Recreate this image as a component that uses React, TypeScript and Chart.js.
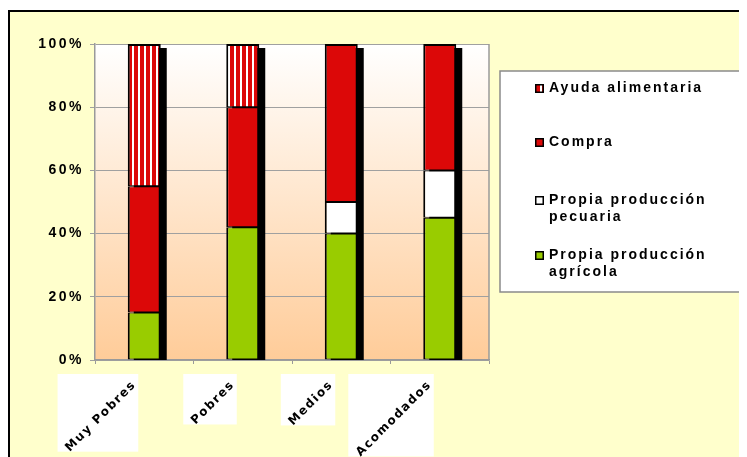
import { useEffect, useRef } from 'react';
import { Chart, registerables } from 'chart.js';
Chart.register(...registerables);

const categories = ['Muy Pobres', 'Pobres', 'Medios', 'Acomodados'];
const agricola = [15, 42, 40, 45];
const pecuaria: (number | null)[] = [null, null, 10, 15];
const compra = [40, 38, 50, 40];
const ayuda: (number | null)[] = [45, 20, null, null];
const yTickStep = 20;
const legendLines = [
  ['Ayuda alimentaria'],
  ['Compra'],
  ['Propia producción', 'pecuaria'],
  ['Propia producción', 'agrícola'],
];

const RED = '#dc0808';
const GREEN = '#99cc00';

function makeStripe(ctx: CanvasRenderingContext2D) {
  const c = document.createElement('canvas');
  c.width = 6;
  c.height = 6;
  const g = c.getContext('2d')!;
  g.fillStyle = '#ffffff';
  g.fillRect(0, 0, 6, 6);
  g.fillStyle = RED;
  g.fillRect(0, 0, 4, 6);
  return ctx.createPattern(c, 'repeat')!;
}

export default function App() {
  const ref = useRef<HTMLCanvasElement>(null);
  useEffect(() => {
    const canvas = ref.current!;
    const ctx0 = canvas.getContext('2d')!;
    const stripe = makeStripe(ctx0);
    const seriesData = [agricola, pecuaria, compra, ayuda];
    const isTop = (d: number, i: number) => {
      for (let k = d + 1; k < seriesData.length; k++) if (seriesData[k][i] != null) return false;
      return true;
    };
    const bw = (c: any) => ({ left: 2, right: 2, bottom: 1, top: isTop(c.datasetIndex, c.dataIndex) ? 2 : 1 });

    const bgPlugin = {
      id: 'bg',
      beforeDraw(chart: any) {
        const { ctx, width, height, chartArea: a } = chart;
        ctx.save();
        ctx.fillStyle = '#ffffff';
        ctx.fillRect(0, 0, width, height);
        ctx.fillStyle = '#ffffcc';
        ctx.fillRect(0, 2, width, height);
        ctx.fillStyle = '#000000';
        ctx.fillRect(0, 2, 2, height);
        ctx.fillRect(0, 2, width, 2);
        const g = ctx.createLinearGradient(0, a.top, 0, a.bottom);
        g.addColorStop(0, '#ffffff');
        g.addColorStop(1, '#ffcc99');
        ctx.fillStyle = g;
        ctx.fillRect(a.left, a.top, a.right - a.left, a.bottom - a.top);
        ctx.restore();
        ctx.letterSpacing = '2.5px';
      },
    };

    const shadowPlugin = {
      id: 'shadow',
      beforeDatasetsDraw(chart: any) {
        const { ctx, chartArea: a } = chart;
        ctx.save();
        ctx.fillStyle = '#000000';
        categories.forEach((_, i) => {
          let top = Infinity;
          let x = 0;
          let w = 0;
          chart.data.datasets.forEach((ds: any, d: number) => {
            if (ds.data[i] == null) return;
            const el = chart.getDatasetMeta(d).data[i];
            const p = el.getProps(['x', 'y', 'width'], true);
            top = Math.min(top, p.y);
            x = p.x;
            w = p.width;
          });
          ctx.fillRect(x - w / 2 + 6, top + 4, w, a.bottom - top - 4);
        });
        ctx.restore();
      },
    };

    const overlayPlugin = {
      id: 'overlay',
      afterDraw(chart: any) {
        const { ctx, chartArea: a } = chart;
        const xs = chart.scales.x;
        ctx.save();
        ctx.strokeStyle = '#9a9a9a';
        ctx.lineWidth = 1.5;
        ctx.beginPath();
        ctx.moveTo(a.right, a.top);
        ctx.lineTo(a.right, a.bottom);
        ctx.stroke();

        // category labels
        ctx.font = 'bold 12px "DejaVu Sans"';
        (ctx as any).letterSpacing = '1.5px';
        categories.forEach((c, i) => {
          const cx = xs.getPixelForValue(i);
          const W = ctx.measureText(c).width;
          const s = W * Math.SQRT1_2 + 14;
          const right = cx - 6;
          const top = a.bottom + 14;
          ctx.fillStyle = '#ffffff';
          ctx.fillRect(right - s, top, s, s - 3);
          ctx.save();
          ctx.translate(right - 4, top + 9);
          ctx.rotate(-Math.PI / 4);
          ctx.textAlign = 'right';
          ctx.textBaseline = 'middle';
          ctx.fillStyle = '#000000';
          ctx.fillText(c, 0, 0);
          ctx.restore();
        });

        // legend
        const lx = 492, ly = 63, lw = 241, lh = 221;
        ctx.fillStyle = '#ffffff';
        ctx.fillRect(lx, ly, lw, lh);
        ctx.strokeStyle = '#8a8a8a';
        ctx.lineWidth = 1.5;
        ctx.strokeRect(lx, ly, lw, lh);
        const fills = [stripe, RED, '#ffffff', GREEN];
        const ys = [80, 134, 192, 247];
        ctx.font = 'bold 14px "Liberation Sans", Arial';
        (ctx as any).letterSpacing = '2px';
        ctx.textAlign = 'left';
        ctx.textBaseline = 'middle';
        legendLines.forEach((lines, k) => {
          const y = ys[k];
          ctx.fillStyle = '#000000';
          ctx.fillRect(527, y - 4, 9, 9);
          ctx.fillStyle = fills[k] as any;
          ctx.fillRect(528.5, y - 2.5, 6, 6);
          ctx.fillStyle = '#000000';
          lines.forEach((t, j) => ctx.fillText(t, 541, y + j * 17));
        });
        ctx.restore();
      },
    };

    const chart = new Chart(canvas, {
      type: 'bar',
      data: {
        labels: categories,
        datasets: [
          { label: 'Propia producción agrícola', data: agricola, backgroundColor: GREEN },
          { label: 'Propia producción pecuaria', data: pecuaria, backgroundColor: '#ffffff' },
          { label: 'Compra', data: compra, backgroundColor: RED },
          { label: 'Ayuda alimentaria', data: ayuda, backgroundColor: stripe as any },
        ].map((d) => ({
          ...d,
          borderColor: '#000000',
          borderWidth: bw as any,
          borderSkipped: false as any,
          barPercentage: 0.335,
          categoryPercentage: 1,
        })),
      },
      options: {
        animation: false,
        responsive: false,
        devicePixelRatio: 1,
        layout: { padding: { top: 36, right: 258, bottom: 0, left: 0 } },
        plugins: { legend: { display: false }, tooltip: { enabled: false } },
        scales: {
          x: {
            stacked: true,
            ticks: { display: false },
            grid: { display: true, drawOnChartArea: false, offset: true, tickLength: 4, color: '#9a9a9a' },
            border: { display: true, color: '#9a9a9a', width: 1.5 },
            afterFit: (s: any) => { s.height = 97; },
          },
          y: {
            stacked: true,
            min: 0,
            max: 100,
            ticks: {
              stepSize: yTickStep,
              padding: 6,
              color: '#000000',
              font: { family: '"Liberation Sans", Arial', size: 14, weight: 'bold' },
              callback: (v: any) => v + '%',
            },
            grid: { color: '#a0a0a0', lineWidth: 1, tickLength: 5 },
            border: { display: true, color: '#9a9a9a', width: 1.5 },
            afterFit: (s: any) => { s.width = 87; },
          },
        },
      },
      plugins: [bgPlugin, shadowPlugin, overlayPlugin],
    });
    return () => chart.destroy();
  }, []);
  return <canvas ref={ref} width={739} height={449} style={{ display: 'block' }} />;
}
